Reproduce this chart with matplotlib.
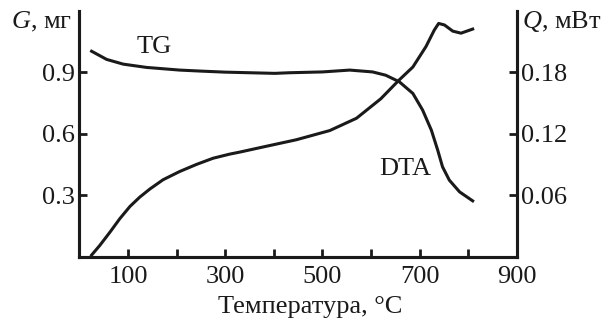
import numpy as np
import matplotlib.pyplot as plt

plt.rcParams['font.family'] = ['Liberation Serif', 'DejaVu Serif']
plt.rcParams['font.size'] = 19
plt.rcParams['mathtext.fontset'] = 'custom'
plt.rcParams['mathtext.rm'] = 'Liberation Serif'
plt.rcParams['mathtext.it'] = 'Liberation Serif:italic'

# TG curve (left axis, G, мг)
t_tg = [25, 56, 90, 138, 206, 250, 299, 350, 402, 432, 500, 556, 603, 630, 658, 686, 706, 724,
        737, 747, 761, 782, 809]
g_tg = [1.002, 0.962, 0.939, 0.923, 0.910, 0.905, 0.900, 0.897, 0.894, 0.897, 0.901, 0.910, 0.901,
        0.885, 0.853, 0.796, 0.715, 0.617, 0.520, 0.438, 0.373, 0.316, 0.272]

# DTA curve (right axis, Q, мВт)
t_dta = [25, 42, 63, 83, 104, 124, 145, 172, 206, 241, 275, 309, 330, 378, 446, 515, 570, 620,
         657, 686, 713, 730, 739, 751, 768, 785, 809]
q_dta = [0.0015, 0.011, 0.024, 0.037, 0.049, 0.058, 0.066, 0.075, 0.083, 0.090, 0.096, 0.100, 0.102,
         0.107, 0.114, 0.123, 0.135, 0.154, 0.172, 0.185, 0.205, 0.221, 0.2275, 0.226, 0.220, 0.218,
         0.222]

fig = plt.figure(figsize=(6.11, 3.22), dpi=100)
ax = fig.add_axes([0.130, 0.203, 0.716, 0.764])
ax2 = ax.twinx()

ax.plot(t_tg, g_tg, color='#1a1a1a', lw=2.2)
ax2.plot(t_dta, q_dta, color='#1a1a1a', lw=2.2)

ax.set_xlim(0, 900)
ax.set_ylim(0, 1.2)
ax2.set_ylim(0, 0.24)

ax.set_xticks(np.arange(100, 1000, 100))
ax.set_xticklabels(['100', '', '300', '', '500', '', '700', '', '900'])
ax.set_yticks([0.3, 0.6, 0.9])
ax.set_yticklabels(['0.3', '0.6', '0.9'])
ax2.set_yticks([0.06, 0.12, 0.18])
ax2.set_yticklabels(['0.06', '0.12', '0.18'])

for a in (ax, ax2):
    a.spines['top'].set_visible(False)
    for s in a.spines.values():
        s.set_linewidth(2.2)
        s.set_color('#1a1a1a')
    a.tick_params(direction='in', length=6, width=2, color='#1a1a1a', labelcolor='#1a1a1a')
ax.tick_params(axis='x', pad=7)
ax.tick_params(axis='y', pad=3)
ax2.tick_params(axis='y', pad=3)

ax.text(154, 1.023, 'TG', ha='center', va='center', color='#1a1a1a')
ax.text(671, 0.427, 'DTA', ha='center', va='center', color='#1a1a1a')

fig.text(72 / 611, 1 - 28 / 322, r'$G$, мг', ha='right', va='baseline', color='#1a1a1a')
fig.text(522 / 611, 1 - 28 / 322, r'$Q$, мВт', ha='left', va='baseline', color='#1a1a1a')
fig.text(310 / 611, 1 - 307 / 322, 'Температура, °C', ha='center', va='center', color='#1a1a1a')

fig.savefig('out.png', dpi=100)
